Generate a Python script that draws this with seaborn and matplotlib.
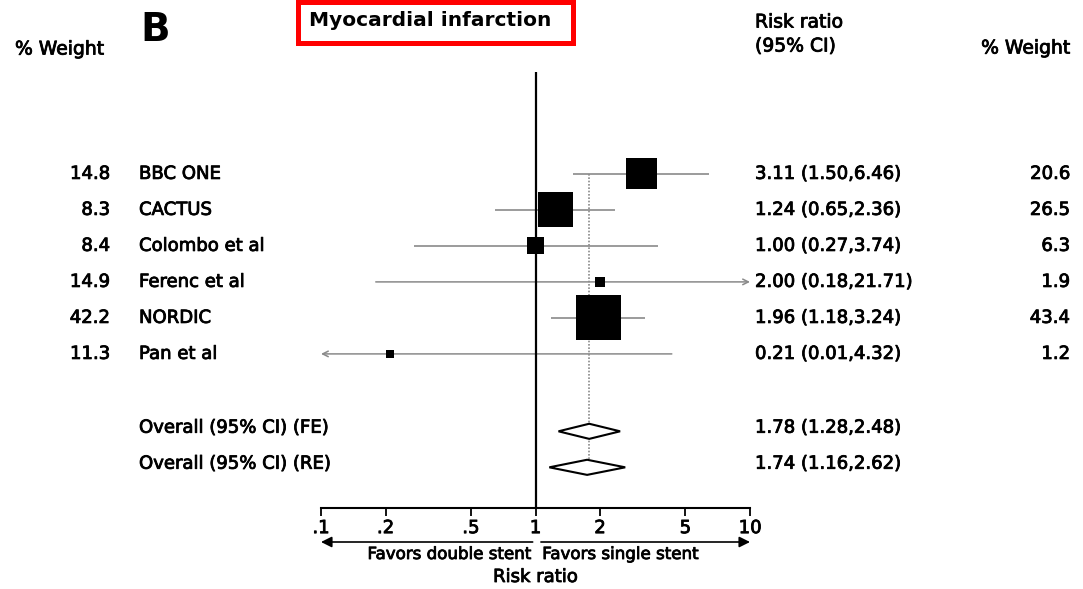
import numpy as np
import pandas as pd
import seaborn as sns
import matplotlib.pyplot as plt
from matplotlib import transforms
from matplotlib import patheffects
from matplotlib.patches import Polygon, Rectangle
from matplotlib.ticker import NullLocator

# ---- data -------------------------------------------------------------
studies = ["BBC ONE", "CACTUS", "Colombo et al", "Ferenc et al", "NORDIC", "Pan et al"]
rr = [3.11, 1.24, 1.00, 2.00, 1.96, 0.21]
ci_low = [1.50, 0.65, 0.27, 0.18, 1.18, 0.01]
ci_high = [6.46, 2.36, 3.74, 21.71, 3.24, 4.32]
weight_left = [14.8, 8.3, 8.4, 14.9, 42.2, 11.3]
weight_right = [20.6, 26.5, 6.3, 1.9, 43.4, 1.2]

overall_labels = ["Overall (95% CI) (FE)", "Overall (95% CI) (RE)"]
overall_rr = [1.78, 1.74]
overall_low = [1.28, 1.16]
overall_high = [2.48, 2.62]

tick_values = [0.1, 0.2, 0.5, 1, 2, 5, 10]
tick_labels = [".1", ".2", ".5", "1", "2", "5", "10"]

# ---- layout -----------------------------------------------------------
W, H = 1083, 589
XMIN, XMAX = 0.1, 10
study_rows = list(range(len(studies)))
overall_rows = [7.15, 8.15]
ROW_TOP, ROW_BOTTOM = -4.83, 9.28
GREY = "#8a8a8a"
TXT = 13

sns.set_theme(style="white")
plt.rcParams["font.family"] = ["DejaVu Sans"]
plt.rcParams["text.color"] = "black"
plt.rcParams["xtick.color"] = "black"
plt.rcParams["xtick.labelcolor"] = "black"

# slight stroke to give the type a heavier print-like weight
HEAVY = [patheffects.withStroke(linewidth=0.6, foreground="black")]

fig = plt.figure(figsize=(W / 100, H / 100), dpi=100)
ax = fig.add_axes([321 / W, 1 - 508 / H, 429 / W, 508 / H])
ax.set_xscale("log")
ax.set_xlim(XMIN, XMAX)
ax.set_ylim(ROW_BOTTOM, ROW_TOP)


def fx(px):
    return px / W


def fy(py):
    return 1 - py / H


def label(x, y, s, **kw):
    kw.setdefault("fontsize", TXT)
    kw.setdefault("va", "center")
    return fig.text(x, y, s, path_effects=HEAVY, **kw)


df = pd.DataFrame({
    "study": studies, "rr": rr, "lo": ci_low, "hi": ci_high,
    "w_left": weight_left, "w_right": weight_right, "row": study_rows,
})

# confidence interval whiskers, with arrows where they run off the scale
for _, r in df.iterrows():
    lo, hi = max(r.lo, XMIN), min(r.hi, XMAX)
    if r.hi > XMAX:
        ax.annotate("", xy=(hi, r.row), xytext=(lo, r.row),
                    arrowprops=dict(arrowstyle="->", color=GREY, lw=1.1,
                                    shrinkA=0, shrinkB=0, mutation_scale=10),
                    zorder=1)
    elif r.lo < XMIN:
        ax.annotate("", xy=(lo, r.row), xytext=(hi, r.row),
                    arrowprops=dict(arrowstyle="->", color=GREY, lw=1.1,
                                    shrinkA=0, shrinkB=0, mutation_scale=10),
                    zorder=1)
    else:
        ax.hlines(r.row, lo, hi, color=GREY, lw=1.2, zorder=1)

# line of no effect and pooled (FE) estimate
ax.vlines(1, -2.83, ROW_BOTTOM, color="black", lw=1.6, zorder=2)
ax.vlines(overall_rr[0], study_rows[0], overall_rows[1], color=GREY,
          lw=1.2, linestyles=(0, (1, 1)), zorder=1)

# study boxes, area proportional to weight
sns.scatterplot(data=df, x="rr", y="row", marker="s", s=df["w_right"] * 24.2,
                color="black", linewidth=0, legend=False, ax=ax, zorder=3)

# pooled diamonds
for est, lo, hi, row in zip(overall_rr, overall_low, overall_high, overall_rows):
    h = 0.21
    ax.add_patch(Polygon([(lo, row), (est, row - h), (hi, row), (est, row + h)],
                         closed=True, facecolor="white", edgecolor="black",
                         lw=1.5, zorder=4))

# axis styling
sns.despine(ax=ax, left=True, top=True, right=True)
ax.spines["bottom"].set_color("black")
ax.spines["bottom"].set_linewidth(1.5)
ax.set_yticks([])
ax.set_xticks(tick_values)
ax.set_xticklabels(tick_labels)
ax.xaxis.set_minor_locator(NullLocator())
ax.tick_params(axis="x", direction="out", length=6, width=1.3, pad=2,
               labelsize=TXT, colors="black", bottom=True)
for t in ax.get_xticklabels():
    t.set_path_effects(HEAVY)
ax.set_xlabel("")
ax.set_ylabel("")
ax.grid(False)

# text columns
row_tf = transforms.blended_transform_factory(fig.transFigure, ax.transData)
for _, r in df.iterrows():
    label(fx(110), r.row, f"{r.w_left:.1f}", transform=row_tf, ha="right")
    label(fx(139), r.row, r.study, transform=row_tf, ha="left")
    label(fx(755), r.row, f"{r.rr:.2f} ({r.lo:.2f},{r.hi:.2f})",
          transform=row_tf, ha="left")
    label(fx(1070), r.row, f"{r.w_right:.1f}", transform=row_tf, ha="right")

for lab, est, lo, hi, row in zip(overall_labels, overall_rr, overall_low,
                                 overall_high, overall_rows):
    label(fx(139), row - 0.1, lab, transform=row_tf, ha="left")
    label(fx(755), row - 0.1, f"{est:.2f} ({lo:.2f},{hi:.2f})",
          transform=row_tf, ha="left")

# headers
label(fx(15), fy(49), "% Weight", ha="left", fontsize=13.5)
fig.text(fx(140), fy(30), "B", ha="left", va="center", fontsize=28,
         fontweight="bold", color="black")
fig.text(fx(309), fy(20), "Myocardial infarction", ha="left", va="center",
         fontsize=14.5, fontweight="bold", color="black")
fig.patches.append(Rectangle((fx(298), fy(43)), fx(573) - fx(298), (43 - 2) / H,
                             transform=fig.transFigure, fill=False,
                             edgecolor="#ff0000", lw=3.6))
label(fx(755), fy(22), "Risk ratio", ha="left", fontsize=13.5)
label(fx(755), fy(46), "(95% CI)", ha="left", fontsize=13.5)
label(fx(1070), fy(48), "% Weight", ha="right", fontsize=13.5)

# direction arrows under the axis
arrow_y = fy(542)
for start, end in [(0.97, XMIN), (1.06, XMAX)]:
    ax.annotate("", xy=(end, arrow_y), xytext=(start, arrow_y),
                xycoords=("data", "figure fraction"),
                textcoords=("data", "figure fraction"),
                arrowprops=dict(arrowstyle="-|>", color="black", lw=1.2,
                                shrinkA=0, shrinkB=0, mutation_scale=16),
                annotation_clip=False)
under_tf = transforms.blended_transform_factory(ax.transData, fig.transFigure)
ax.text(0.95, fy(554), "Favors double stent", transform=under_tf,
        ha="right", va="center", fontsize=12, path_effects=HEAVY)
ax.text(1.075, fy(554), "Favors single stent", transform=under_tf,
        ha="left", va="center", fontsize=12, path_effects=HEAVY)
ax.text(1, fy(577), "Risk ratio", transform=under_tf,
        ha="center", va="center", fontsize=13, path_effects=HEAVY)

fig.savefig("out.png", dpi=100, facecolor="white")
